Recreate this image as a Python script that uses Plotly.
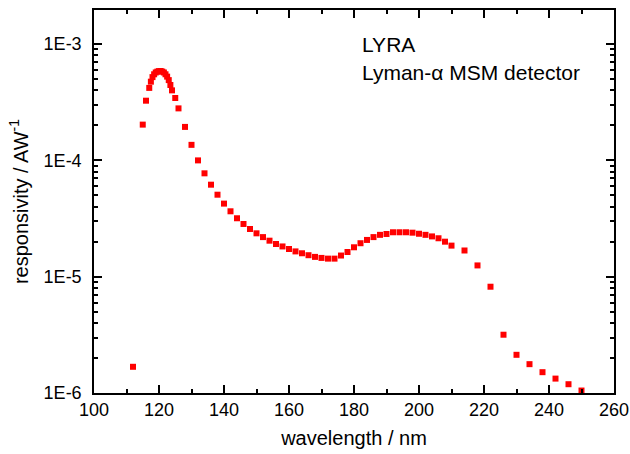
import plotly.graph_objects as go

# wavelength (nm) and responsivity (A/W)
wavelength = [112, 115, 116, 117, 117.5, 118, 118.5, 119, 119.5, 120, 120.5, 121,
              121.5, 122, 122.5, 123, 123.5, 124, 125, 126, 128, 130, 132, 134,
              136, 138, 140, 142, 144, 146, 148, 150, 152, 154, 156, 158, 160,
              162, 164, 166, 168, 170, 172, 174, 176, 178, 180, 182, 184, 186,
              188, 190, 192, 194, 196, 198, 200, 202, 204, 206, 208, 210, 214,
              218, 222, 226, 230, 234, 238, 242, 246, 250]
responsivity = [1.68e-6, 2.03e-4, 3.26e-4, 4.2e-4, 4.75e-4, 5.2e-4, 5.5e-4, 5.7e-4,
                5.8e-4, 5.85e-4, 5.87e-4, 5.8e-4, 5.7e-4, 5.5e-4, 5.25e-4, 4.9e-4,
                4.45e-4, 4.0e-4, 3.44e-4, 2.8e-4, 1.94e-4, 1.36e-4, 1.0e-4, 7.74e-5,
                6.18e-5, 5.07e-5, 4.25e-5, 3.65e-5, 3.18e-5, 2.84e-5, 2.57e-5,
                2.36e-5, 2.19e-5, 2.04e-5, 1.91e-5, 1.82e-5, 1.73e-5, 1.65e-5,
                1.59e-5, 1.53e-5, 1.48e-5, 1.45e-5, 1.43e-5, 1.43e-5, 1.52e-5,
                1.63e-5, 1.79e-5, 1.94e-5, 2.07e-5, 2.19e-5, 2.29e-5, 2.33e-5,
                2.41e-5, 2.41e-5, 2.41e-5, 2.39e-5, 2.34e-5, 2.29e-5, 2.22e-5,
                2.14e-5, 2.0e-5, 1.85e-5, 1.68e-5, 1.25e-5, 8.2e-6, 3.17e-6,
                2.13e-6, 1.77e-6, 1.51e-6, 1.33e-6, 1.19e-6, 1.05e-6]

x_ticks = [100, 120, 140, 160, 180, 200, 220, 240, 260]
y_tickvals = [1e-6, 1e-5, 1e-4, 1e-3]
y_ticktext = ["1E-6", "1E-5", "1E-4", "1E-3"]
y_minor = [m * d for d in [1e-6, 1e-5, 1e-4, 1e-3] for m in range(2, 10)]

FONT = "Liberation Sans, Arial, sans-serif"
X_RANGE = [100, 260]
Y_RANGE = [-6, -2.707]

fig = go.Figure()
fig.add_trace(go.Scatter(
    x=wavelength, y=responsivity, mode="markers",
    marker=dict(symbol="square", size=6, color="#ff0000", line=dict(width=0)),
    showlegend=False, cliponaxis=False, hoverinfo="skip",
))
# empty trace so the mirrored top/right axes are drawn
fig.add_trace(go.Scatter(x=[], y=[], xaxis="x2", yaxis="y2", showlegend=False))

tick_common = dict(ticks="inside", tickcolor="black", tickwidth=1.5, ticklen=8,
                   showgrid=False, zeroline=False, automargin=False,
                   showline=True, linecolor="black", linewidth=1.5)
xminor = dict(ticks="inside", dtick=10, ticklen=4, tickwidth=1.5, tickcolor="black")
yminor = dict(ticks="inside", tickvals=y_minor, ticklen=4, tickwidth=1.5, tickcolor="black")

fig.update_layout(
    xaxis=dict(range=X_RANGE, tickvals=x_ticks, minor=xminor,
               tickfont=dict(family=FONT, size=18, color="black"),
               title=dict(text="wavelength / nm", font=dict(family=FONT, size=20, color="black"), standoff=12),
               **tick_common),
    yaxis=dict(type="log", range=Y_RANGE, tickvals=y_tickvals, ticktext=y_ticktext, minor=yminor,
               tickfont=dict(family=FONT, size=18, color="black"), ticklabelstandoff=7,
               title=dict(text="responsivity / AW<sup>-1</sup>", font=dict(family=FONT, size=20, color="black"), standoff=10),
               **tick_common),
    xaxis2=dict(overlaying="x", side="top", range=X_RANGE, tickvals=x_ticks, minor=xminor,
                showticklabels=False, **tick_common),
    yaxis2=dict(overlaying="y", side="right", type="log", range=Y_RANGE, tickvals=y_tickvals,
                minor=yminor, showticklabels=False, **tick_common),
)

fig.add_annotation(x=0.512, y=0.91, xref="paper", yref="paper", xanchor="left", yanchor="middle",
                   text="LYRA", showarrow=False, font=dict(family=FONT, size=21, color="black"))
fig.add_annotation(x=0.512, y=0.838, xref="paper", yref="paper", xanchor="left", yanchor="middle",
                   text="Lyman-α MSM detector", showarrow=False, font=dict(family=FONT, size=21, color="black"))

fig.update_layout(
    width=630, height=454,
    margin=dict(l=94, r=16, t=10, b=61),
    plot_bgcolor="white", paper_bgcolor="white",
)

fig.write_html("out.html", config={"displayModeBar": False},
               post_script="document.body.style.margin='0';document.body.style.overflow='hidden';")
